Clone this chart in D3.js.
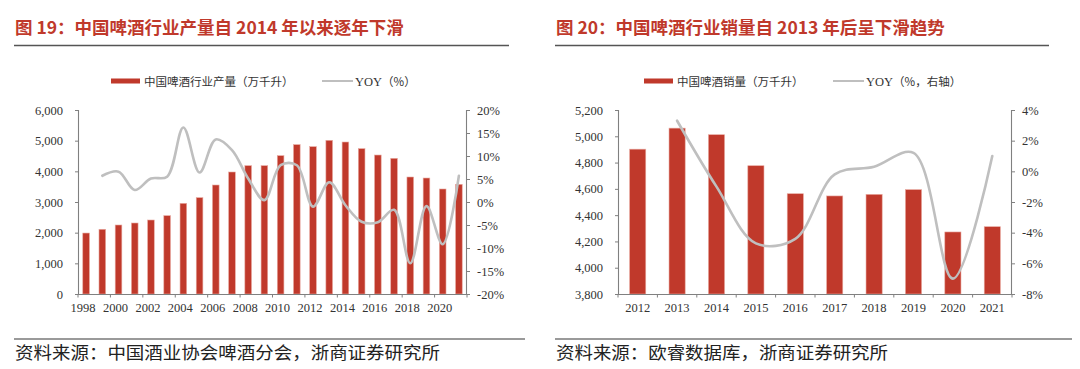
<!DOCTYPE html>
<html><head><meta charset="utf-8">
<script src="https://cdn.jsdelivr.net/npm/d3@7"></script>
<style>
html,body{margin:0;padding:0;background:#fff;}
svg{display:block;}
</style></head>
<body>
<svg id="c" width="1080" height="369"></svg>
<script>
// ---------- data ----------
const prodYears = ["1998","1999","2000","2001","2002","2003","2004","2005","2006","2007","2008","2009","2010","2011","2012","2013","2014","2015","2016","2017","2018","2019","2020","2021"];
const prodValues = [1988,2110,2250,2315,2413,2554,2956,3141,3554,3978,4184,4184,4510,4870,4804,5011,4956,4739,4532,4424,3815,3782,3424,3576];
const prodYoyYears = prodYears.slice(1);
const prodYoy = [5.7,6.6,2.6,5.1,5.5,16.2,6.4,13.6,11.3,5.1,0.4,8.0,8.0,-1.0,4.3,-0.7,-4.3,-4.4,-1.7,-13.3,-0.9,-9.2,5.7];
const prodLeftTicks = [0,1000,2000,3000,4000,5000,6000];
const prodRightTicks = [-20,-15,-10,-5,0,5,10,15,20];
const prodLabelYears = ["1998","2000","2002","2004","2006","2008","2010","2012","2014","2016","2018","2020"];

const salesYears = ["2012","2013","2014","2015","2016","2017","2018","2019","2020","2021"];
const salesValues = [4902,5062,5012,4776,4563,4546,4558,4594,4272,4312];
const salesYoyYears = salesYears.slice(1);
const salesYoy = [3.3,-1.0,-4.7,-4.4,-0.2,0.3,1.2,-7.0,1.0];
const salesLeftTicks = [3800,4000,4200,4400,4600,4800,5000,5200];
const salesRightTicks = [-8,-6,-4,-2,0,2,4];

const titles = ["图 19：中国啤酒行业产量自 2014 年以来逐年下滑","图 20：中国啤酒行业销量自 2013 年后呈下滑趋势"];
const legendBar = ["中国啤酒行业产量（万千升）","中国啤酒销量（万千升）"];
const legendLine = ["YOY（%）","YOY（%，右轴）"];
const sources = ["资料来源：中国酒业协会啤酒分会，浙商证券研究所","资料来源：欧睿数据库，浙商证券研究所"];

// ---------- styles ----------
const RED = "#C0392B", TITLE_RED = "#C0392B", GRAY_LINE = "#BFBFBF", AXIS = "#808080", TXT = "#333";
const CJK = "'Noto Sans CJK SC','Noto Sans',sans-serif";
const SERIF = "'Liberation Serif','DejaVu Serif',serif";

const svg = d3.select("#c");

function panel(cfg){
  const g = svg.append("g");
  // title
  g.append("text").attr("x", cfg.left).attr("y", 34)
    .attr("font-family", CJK).attr("font-weight", 700).attr("font-size", 17.5)
    .attr("fill", TITLE_RED).text(cfg.title);
  g.append("line").attr("x1", cfg.left - 1).attr("x2", cfg.right).attr("y1", 45.5).attr("y2", 45.5)
    .attr("stroke", "#555").attr("stroke-width", 1.3);

  // legend
  g.append("rect").attr("x", cfg.lgBar).attr("y", 78.5).attr("width", 29).attr("height", 5).attr("fill", RED);
  g.append("text").attr("x", cfg.lgBar + 33).attr("y", 85.5).attr("font-family", CJK).attr("font-size", 11.5)
    .attr("fill", TXT).text(cfg.lgBarText);
  g.append("line").attr("x1", cfg.lgLine).attr("x2", cfg.lgLine + 31).attr("y1", 81).attr("y2", 81)
    .attr("stroke", GRAY_LINE).attr("stroke-width", 2);
  const lt = g.append("text").attr("x", cfg.lgLine + 33).attr("y", 85.5).attr("fill", TXT);
  lt.append("tspan").attr("font-family", SERIF).attr("font-size", 12.5).text("YOY");
  lt.append("tspan").attr("font-family", CJK).attr("font-size", 11.5).text(cfg.lgLineText.slice(3));

  // scales
  const x = d3.scaleBand().domain(cfg.years).range([cfg.x0, cfg.x1]).paddingInner(0.59).paddingOuter(0.295);
  const yL = d3.scaleLinear().domain(cfg.leftDomain).range([294, 110]);
  const yR = d3.scaleLinear().domain(cfg.rightDomain).range([294, 110]);

  // bars
  g.append("g").selectAll("rect").data(cfg.values).join("rect")
    .attr("x", (d,i) => x(cfg.years[i]))
    .attr("width", x.bandwidth())
    .attr("y", d => yL(d))
    .attr("height", d => yL(cfg.leftDomain[0]) - yL(d))
    .attr("fill", RED).attr("stroke", "#E8A9A0").attr("stroke-width", 0.6);

  // yoy line
  const line = d3.line().x((d,i) => x(cfg.yoyYears[i]) + x.bandwidth()/2).y(d => yR(d))
    .curve(d3.curveCatmullRom.alpha(0.5));
  g.append("path").attr("d", line(cfg.yoy)).attr("fill", "none")
    .attr("stroke", GRAY_LINE).attr("stroke-width", 2.6).attr("stroke-linecap", "round");

  // left axis
  const ax = g.append("g").attr("transform", `translate(${cfg.x0},0)`)
    .call(d3.axisLeft(yL).tickValues(cfg.leftTicks).tickFormat(d3.format(",")).tickSize(3).tickPadding(12));
  // right axis
  const ar = g.append("g").attr("transform", `translate(${cfg.x1},0)`)
    .call(d3.axisRight(yR).tickValues(cfg.rightTicks).tickFormat(d => d + "%").tickSize(3).tickPadding(7));
  // bottom axis (labels)
  const ab = g.append("g").attr("transform", "translate(0,294)")
    .call(d3.axisBottom(x).tickValues(cfg.labelYears).tickSize(0).tickPadding(9));
  ab.selectAll(".tick text").attr("dx", cfg.labelDx);
  // bottom tick marks at band boundaries
  const step = x.step();
  const bounds = [];
  for (let i = 0; i <= cfg.years.length; i += cfg.tickEvery) bounds.push(cfg.x0 + i * step);
  g.append("g").selectAll("line").data(bounds).join("line")
    .attr("x1", d => d).attr("x2", d => d).attr("y1", 294).attr("y2", 297.5)
    .attr("stroke", AXIS).attr("stroke-width", 1);

  [ax, ar, ab].forEach(a => {
    a.select(".domain").attr("stroke", AXIS).attr("stroke-width", 1.1);
    a.selectAll(".tick line").attr("stroke", AXIS);
    a.selectAll(".tick text").attr("font-family", SERIF).attr("font-size", 12.5).attr("fill", TXT);
  });
  ax.selectAll(".tick text").attr("dx", 0);
  // x-axis domain has end caps of size 0 (tickSizeOuter default 6) -> redraw clean
  ab.select(".domain").attr("d", `M${cfg.x0},0.5H${cfg.x1}`);
  ax.select(".domain").attr("d", `M-3,110.5H0.5V294`);
  ar.select(".domain").attr("d", `M3,110.5H-0.5V294`);

  // source
  g.append("line").attr("x1", cfg.left - 1).attr("x2", cfg.srcRight).attr("y1", 339).attr("y2", 339)
    .attr("stroke", "#9a9a9a").attr("stroke-width", 2);
  g.append("text").attr("x", cfg.left).attr("y", 359).attr("font-family", CJK).attr("font-size", 17)
    .attr("fill", "#222").attr("textLength", cfg.srcLen).attr("lengthAdjust", "spacingAndGlyphs").text(cfg.source);
}

panel({
  left: 15, right: 509, title: titles[0],
  lgBar: 111, lgBarText: legendBar[0], lgLine: 322, lgLineText: legendLine[0],
  years: prodYears, values: prodValues, yoyYears: prodYoyYears, yoy: prodYoy,
  x0: 78, x1: 467, leftDomain: [0, 6000], rightDomain: [-20, 20],
  leftTicks: prodLeftTicks, rightTicks: prodRightTicks, labelYears: prodLabelYears,
  tickEvery: 2, labelDx: -3, srcRight: 525, srcLen: 425, source: sources[0]
});
panel({
  left: 556, right: 1049, title: titles[1],
  lgBar: 644, lgBarText: legendBar[1], lgLine: 833, lgLineText: legendLine[1],
  years: salesYears, values: salesValues, yoyYears: salesYoyYears, yoy: salesYoy,
  x0: 618, x1: 1012, leftDomain: [3800, 5200], rightDomain: [-8, 4],
  leftTicks: salesLeftTicks, rightTicks: salesRightTicks, labelYears: salesYears,
  tickEvery: 1, labelDx: 0, srcRight: 1072, srcLen: 332, source: sources[1]
});
</script>
</body></html>
